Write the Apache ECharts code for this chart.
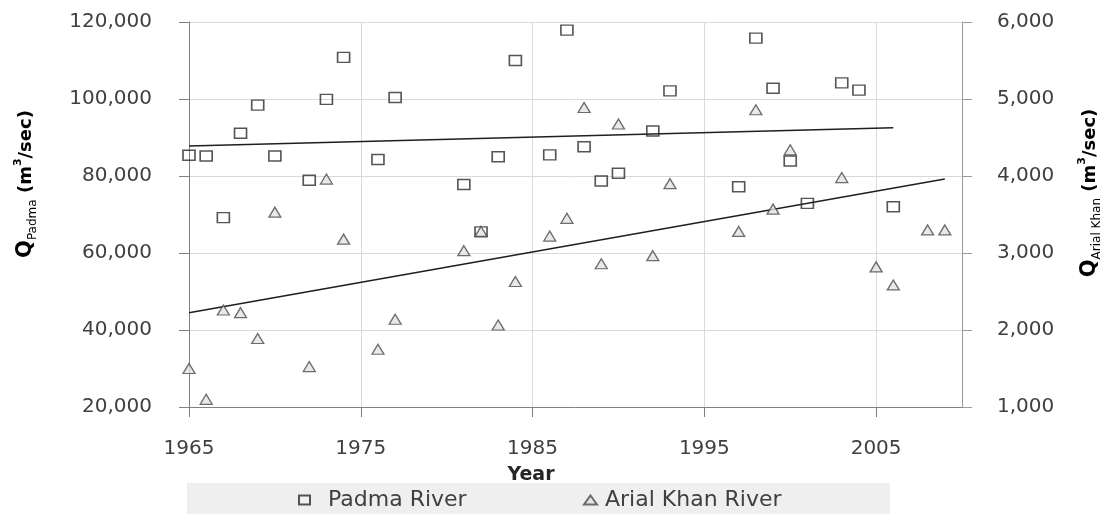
<!DOCTYPE html>
<html>
<head>
<meta charset="utf-8">
<script src="https://cdn.jsdelivr.net/npm/echarts@6/dist/echarts.min.js"></script>
<style>
  html, body { margin: 0; padding: 0; background: #fff; }
  #chart { width: 1115px; height: 514px; }
</style>
</head>
<body>
<div id="chart"></div>
<script>
// Annual peak discharge, Padma River (m3/sec, left axis)
const padmaYears = [1965, 1966, 1967, 1968, 1969, 1970, 1972, 1973, 1974, 1976,
                    1977, 1981, 1982, 1983, 1984, 1986, 1987, 1988, 1989, 1990,
                    1992, 1993, 1997, 1998, 1999, 2000, 2001, 2003, 2004, 2006];
const padmaFlow  = [85400, 85200, 69200, 91100, 98400, 85200, 78900, 99900, 110800, 84300,
                    100400, 77800, 65500, 85000, 110000, 85500, 117900, 87600, 78700, 80700,
                    91700, 102100, 77200, 115800, 102800, 83900, 72900, 104200, 102300, 72000];

// Annual peak discharge, Arial Khan River (m3/sec, right axis)
const arialYears = [1965, 1966, 1967, 1968, 1969, 1970, 1972, 1973, 1974, 1976,
                    1977, 1981, 1982, 1983, 1984, 1986, 1987, 1988, 1989, 1990,
                    1992, 1993, 1997, 1998, 1999, 2000, 2003, 2005, 2006, 2008, 2009];
const arialFlow  = [1500, 1100, 2260, 2225, 1890, 3530, 1525, 3960, 3180, 1750,
                    2140, 3030, 3280, 2065, 2630, 3220, 3450, 4890, 2860, 4675,
                    2965, 3900, 3280, 4860, 3570, 4340, 3980, 2820, 2585, 3300, 3300];

// Linear trend end points
const padmaTrendYears = [1965, 2006];
const padmaTrendFlow  = [87800, 92550];
const arialTrendYears = [1965, 2009];
const arialTrendFlow  = [2225, 3960];

// Axis ticks
const yearTicks = [1965, 1975, 1985, 1995, 2005];

const FONT = 'DejaVu Sans';
const TEXT = '#404040';
const zip = (xs, ys) => xs.map((x, i) => [x, ys[i]]);
const fmt = v => Number(v).toLocaleString('en-US');

const chart = echarts.init(document.getElementById('chart'), null, { renderer: 'canvas' });

const titleRich = {
  q:   { fontFamily: FONT, fontSize: 21, fontWeight: 'bold', color: TEXT, lineHeight: 26 },
  s:   { fontFamily: FONT, fontSize: 12, color: TEXT, verticalAlign: 'bottom', lineHeight: 14 },
  u:   { fontFamily: FONT, fontSize: 18, fontWeight: 'bold', color: TEXT, lineHeight: 26 },
  p:   { fontFamily: FONT, fontSize: 11, fontWeight: 'bold', color: TEXT, verticalAlign: 'top', lineHeight: 12 }
};

chart.setOption({
  backgroundColor: '#fff',
  animation: false,
  grid: { left: 189, right: 153, top: 22, bottom: 107, containLabel: false, outerBoundsMode: 'none' },
  xAxis: {
    type: 'value',
    min: 1965, max: 2010, interval: 5,
    axisLine: { show: true, lineStyle: { color: '#808080', width: 1 } },
    axisTick: { show: true, length: 10, customValues: yearTicks, lineStyle: { color: '#808080' } },
    axisLabel: { customValues: yearTicks, margin: 32, fontFamily: FONT, fontSize: 20, color: TEXT,
                 formatter: v => String(v) },
    splitLine: { show: true, lineStyle: { color: '#d9d9d9', width: 1 } }
  },
  yAxis: [
    {
      type: 'value', position: 'left',
      min: 20000, max: 120000, interval: 20000,
      axisLine: { show: true, lineStyle: { color: '#808080', width: 1 } },
      axisTick: { show: true, length: 10, lineStyle: { color: '#808080' } },
      axisLabel: { margin: 37, fontFamily: FONT, fontSize: 20, color: TEXT, formatter: fmt },
      splitLine: { show: true, lineStyle: { color: '#d9d9d9', width: 1 } }
    },
    {
      type: 'value', position: 'right',
      min: 1000, max: 6000, interval: 1000,
      axisLine: { show: true, lineStyle: { color: '#999999', width: 1 } },
      axisTick: { show: true, length: 10, lineStyle: { color: '#999999' } },
      axisLabel: { margin: 35, fontFamily: FONT, fontSize: 20, color: TEXT, formatter: fmt },
      splitLine: { show: false }
    }
  ],
  legend: [
    {
      data: ['Padma River'], left: 298, top: 489, padding: 0,
      itemWidth: 11, itemHeight: 9,
      textStyle: { fontFamily: FONT, fontSize: 22, color: TEXT, padding: [0, 0, 0, 13] }
    },
    {
      data: ['Arial Khan River'], left: 583, top: 489, padding: 0,
      itemWidth: 13, itemHeight: 9,
      textStyle: { fontFamily: FONT, fontSize: 22, color: TEXT, padding: [0, 0, 0, 3] }
    }
  ],
  graphic: [
    { type: 'rect', z: 0, shape: { x: 187, y: 483, width: 703, height: 31 },
      style: { fill: '#efefef' } },
    { type: 'text', x: 531, y: 475,
      style: { text: 'Year', fontFamily: FONT, fontSize: 19, fontWeight: 'bold', fill: '#262626',
               align: 'center', verticalAlign: 'middle' } },
    { type: 'text', x: 26, y: 184, rotation: Math.PI / 2,
      style: { text: '{q|Q}{s|Padma}{u| (m}{p|3}{u|/sec)}', rich: titleRich,
               align: 'center', verticalAlign: 'middle' } },
    { type: 'text', x: 1090, y: 193, rotation: Math.PI / 2,
      style: { text: '{q|Q}{s|Arial Khan}{u| (m}{p|3}{u|/sec)}', rich: titleRich,
               align: 'center', verticalAlign: 'middle' } }
  ],
  series: [
    {
      name: 'Padma River', type: 'scatter', yAxisIndex: 0,
      symbol: 'rect', symbolSize: [12, 10],
      itemStyle: { color: 'rgba(255,255,255,0)', borderColor: '#2b2b2b', borderWidth: 1.5 },
      data: zip(padmaYears, padmaFlow), z: 3
    },
    {
      name: 'Arial Khan River', type: 'scatter', yAxisIndex: 1,
      symbol: 'triangle', symbolSize: [12, 10],
      itemStyle: { color: '#e4e4e4', borderColor: '#4a4a4a', borderWidth: 1.3 },
      data: zip(arialYears, arialFlow), z: 4
    },
    {
      name: 'Padma trend', type: 'line', yAxisIndex: 0,
      showSymbol: false, silent: true,
      lineStyle: { color: '#1f1f1f', width: 1.5 },
      data: zip(padmaTrendYears, padmaTrendFlow), z: 2
    },
    {
      name: 'Arial Khan trend', type: 'line', yAxisIndex: 1,
      showSymbol: false, silent: true,
      lineStyle: { color: '#1f1f1f', width: 1.5 },
      data: zip(arialTrendYears, arialTrendFlow), z: 2
    }
  ]
});
</script>
</body>
</html>
